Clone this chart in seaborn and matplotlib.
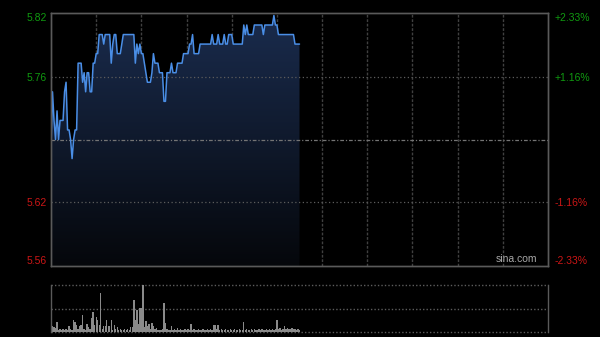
import matplotlib
matplotlib.use("Agg")
import matplotlib.pyplot as plt
import seaborn as sns
import numpy as np
import pandas as pd
from matplotlib.colors import LinearSegmentedColormap

# ---------------- data ----------------
prev_close = 5.69
pct_levels = [-2.33, -1.16, 1.16, 2.33]

price = [
    5.68, 5.74, 5.71, 5.69, 5.72, 5.69, 5.71, 5.71, 5.71, 5.74,
    5.75, 5.70, 5.70, 5.69, 5.67, 5.69, 5.70, 5.70, 5.77, 5.77,
    5.77, 5.75, 5.76, 5.74, 5.76, 5.76, 5.74, 5.74, 5.77, 5.77,
    5.78, 5.78, 5.80, 5.80, 5.80, 5.79, 5.80, 5.80, 5.80, 5.80,
    5.77, 5.79, 5.80, 5.80, 5.78, 5.78, 5.78, 5.79, 5.80, 5.80,
    5.80, 5.80, 5.80, 5.80, 5.80, 5.80, 5.77, 5.79, 5.78, 5.79,
    5.78, 5.78, 5.77, 5.76, 5.75, 5.75, 5.75, 5.76, 5.78, 5.77,
    5.77, 5.77, 5.76, 5.76, 5.76, 5.73, 5.73, 5.76, 5.76, 5.76,
    5.77, 5.76, 5.76, 5.76, 5.77, 5.77, 5.77, 5.77, 5.78, 5.78,
    5.78, 5.78, 5.79, 5.79, 5.80, 5.78, 5.78, 5.78, 5.78, 5.79,
    5.79, 5.79, 5.79, 5.79, 5.79, 5.79, 5.79, 5.80, 5.79, 5.79,
    5.79, 5.80, 5.79, 5.79, 5.79, 5.80, 5.79, 5.79, 5.80, 5.80,
    5.80, 5.79, 5.79, 5.79, 5.79, 5.79, 5.79, 5.79, 5.81, 5.80,
    5.81, 5.80, 5.80, 5.80, 5.80, 5.81, 5.81, 5.81, 5.81, 5.81,
    5.81, 5.80, 5.81, 5.81, 5.81, 5.81, 5.81, 5.81, 5.82, 5.81,
    5.81, 5.80, 5.80, 5.80, 5.80, 5.80, 5.80, 5.80, 5.80, 5.80,
    5.80, 5.80, 5.79, 5.79, 5.79, 5.79,
]

volume = [
    34, 6, 5, 4, 10, 2, 3, 2, 3, 2,
    3, 2, 6, 3, 2, 12, 10, 7, 3, 6,
    7, 17, 3, 2, 8, 5, 3, 14, 20, 7,
    15, 12, 7, 39, 3, 6, 6, 12, 6, 6,
    12, 2, 7, 3, 5, 2, 3, 2, 2, 3,
    2, 3, 2, 5, 5, 32, 12, 22, 8, 24,
    24, 47, 5, 11, 6, 8, 3, 9, 6, 3,
    4, 2, 2, 2, 3, 29, 9, 3, 2, 2,
    6, 2, 3, 2, 4, 2, 3, 2, 2, 3,
    2, 3, 2, 8, 2, 3, 2, 2, 3, 2,
    2, 3, 2, 2, 3, 2, 3, 2, 7, 7,
    3, 7, 2, 3, 2, 2, 3, 2, 2, 3,
    2, 2, 3, 2, 2, 3, 2, 2, 10, 2,
    3, 2, 2, 3, 2, 3, 2, 2, 3, 2,
    3, 2, 2, 3, 2, 3, 2, 3, 2, 3,
    12, 3, 4, 2, 3, 6, 3, 4, 3, 3,
    4, 3, 3, 2, 3, 2,
]

total_minutes = 330
minutes = list(range(len(price)))
df = pd.DataFrame({"minute": minutes, "price": price, "volume": volume})

# ---------------- style ----------------
sns.set_theme(style="ticks")
plt.rcParams["font.family"] = ["Liberation Sans", "DejaVu Sans"]
BG = "#000000"
GREEN = "#109a10"
RED = "#cc1616"
BORDER = "#5a5a5a"

fig = plt.figure(figsize=(6.0, 3.37), dpi=100, facecolor=BG)
W, H = 600, 337
ax = fig.add_axes([51 / W, 1 - 266 / H, 497 / W, 253 / H])
axv = fig.add_axes([51 / W, 1 - 332 / H, 497 / W, 47 / H])
for a in (ax, axv):
    a.set_facecolor(BG)

ymax = prev_close * (1 + pct_levels[-1] / 100)
ymin = prev_close * (1 + pct_levels[0] / 100)

# gradient fill under price line
poly = ax.fill_between(df["minute"], df["price"], ymin, color="none", lw=0)
cmap = LinearSegmentedColormap.from_list("g", ["#05070b", "#1a2c4e"])
grad = np.linspace(0, 1, 256).reshape(-1, 1)
im = ax.imshow(grad, extent=[0, total_minutes, ymin, ymax], origin="lower",
               aspect="auto", cmap=cmap, zorder=1, interpolation="bicubic")
im.set_clip_path(poly.get_paths()[0], transform=ax.transData)

sns.lineplot(data=df, x="minute", y="price", ax=ax, color="#4a8ee6",
             lw=1.1, zorder=3)

ax.set_xlim(0, total_minutes)
ax.set_ylim(ymin, ymax)

# grid
ax.set_xticks(range(30, total_minutes, 30))
ax.xaxis.grid(True, color="#404040", lw=1, linestyle=(0, (2, 1.2)), zorder=2)
ax.yaxis.grid(False)
for p in pct_levels[1:3]:
    ax.axhline(prev_close * (1 + p / 100), color="#5c5c5c", lw=0.9,
               linestyle=(0, (1, 2)), zorder=2)
ax.axhline(prev_close, color="#747474", lw=0.9,
           linestyle=(0, (3, 1.5, 1, 1.5)), zorder=2)

ax.tick_params(axis="x", length=0, labelbottom=False)
ax.set_xlabel("")
ax.set_ylabel("")

tick_vals = [prev_close * (1 + p / 100) for p in pct_levels]
ax.set_yticks(tick_vals)
ax.set_yticklabels([f"{v:.2f}" for v in tick_vals])
ax.tick_params(axis="y", length=0, pad=3, labelsize=7.5)

ax2 = ax.twinx()
ax2.set_ylim(ymin, ymax)
ax2.set_yticks(tick_vals)
ax2.set_yticklabels([f"{p:+.2f}%" for p in pct_levels])
ax2.tick_params(axis="y", length=0, pad=5, labelsize=7.5)

for labels in (ax.get_yticklabels(), ax2.get_yticklabels()):
    for i, lab in enumerate(labels):
        lab.set_color(GREEN if pct_levels[i] > 0 else RED)
        if i == 0:
            lab.set_va("bottom")
        elif i == len(labels) - 1:
            lab.set_va("top")

for a in (ax, ax2):
    for s in a.spines.values():
        s.set_color(BORDER)
        s.set_linewidth(1)

ax.text(0.978, 0.008, "sina.com", transform=ax.transAxes, ha="right",
        va="bottom", color="#a8a8a8", fontsize=7.5, zorder=5)

# volume panel
sns.barplot(data=df, x="minute", y="volume", ax=axv, native_scale=True,
            color="#8a8a8a", saturation=1, width=0.9, errorbar=None,
            linewidth=0)
axv.set_xlim(0, total_minutes)
vmax = max(volume)
axv.set_ylim(0, vmax)
axv.set_xticks([])
axv.set_yticks([])
axv.set_xlabel("")
axv.set_ylabel("")
for side in ("top", "bottom"):
    axv.spines[side].set_visible(False)
for side in ("left", "right"):
    axv.spines[side].set_color(BORDER)
    axv.spines[side].set_linewidth(1)
for yv in (0, vmax / 2, vmax):
    axv.axhline(yv, color="#5c5c5c", lw=1, linestyle=(0, (1, 1.5)),
                clip_on=False, zorder=0)

fig.savefig("out.png", dpi=100, facecolor=BG)
